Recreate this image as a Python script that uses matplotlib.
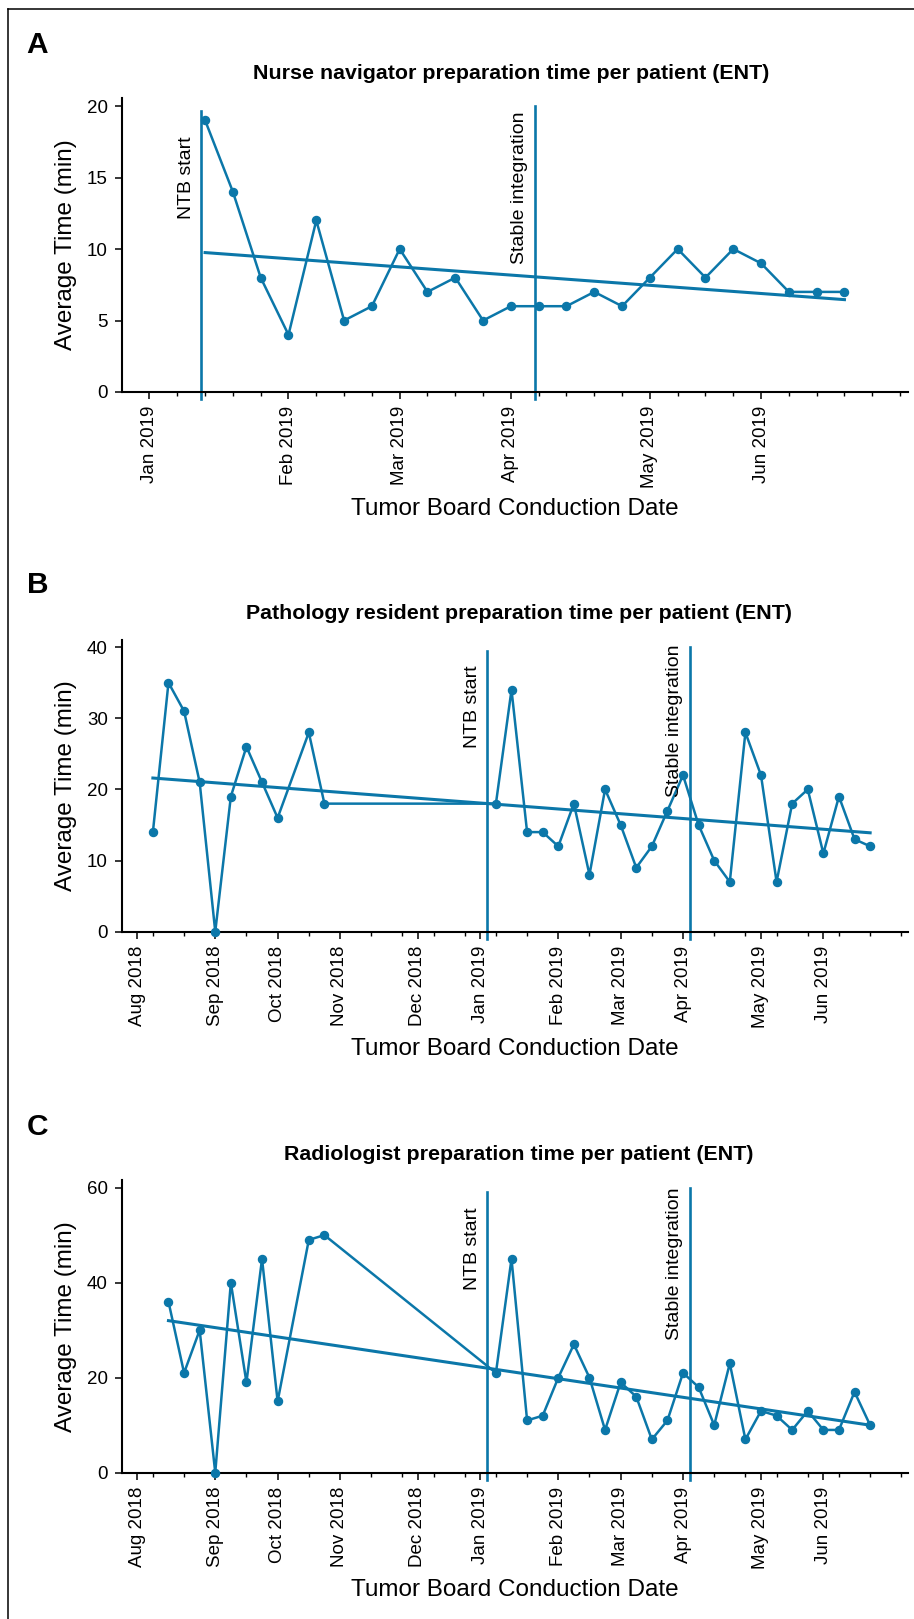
import matplotlib
matplotlib.use("Agg")
import numpy as np
import matplotlib.pyplot as plt
import matplotlib.dates as mdates
from matplotlib.lines import Line2D

plt.rcParams['font.family'] = ['Liberation Sans', 'DejaVu Sans']

COLOR = '#0b77a9'

# ---------------- Panel A data ----------------
a_title = "Nurse navigator preparation time per patient (ENT)"
a_dates = ['2019-01-15', '2019-01-22', '2019-01-29', '2019-02-05', '2019-02-12', '2019-02-19',
           '2019-02-26', '2019-03-05', '2019-03-12', '2019-03-19', '2019-03-26', '2019-04-02',
           '2019-04-09', '2019-04-16', '2019-04-23', '2019-04-30', '2019-05-07', '2019-05-14',
           '2019-05-21', '2019-05-28', '2019-06-04', '2019-06-11', '2019-06-18', '2019-06-25']
a_values = [19, 14, 8, 4, 12, 5, 6, 10, 7, 8, 5, 6, 6, 6, 7, 6, 8, 10, 8, 10, 9, 7, 7, 7]
a_trend_dates = ['2019-01-15', '2019-06-25']
a_trend_values = [9.75, 6.46]
a_events = ['2019-01-14', '2019-04-08']
a_tick_dates = ['2019-01-01', '2019-02-05', '2019-03-05', '2019-04-02', '2019-05-07', '2019-06-04']
a_tick_labels = ['Jan 2019', 'Feb 2019', 'Mar 2019', 'Apr 2019', 'May 2019', 'Jun 2019']
a_yticks = [0, 5, 10, 15, 20]

# ---------------- Panel B data ----------------
b_title = "Pathology resident preparation time per patient (ENT)"
b_dates = ['2018-08-07', '2018-08-14', '2018-08-21', '2018-08-28', '2018-09-04', '2018-09-11',
           '2018-09-18', '2018-09-25', '2018-10-02', '2018-10-16', '2018-10-23',
           '2019-01-08', '2019-01-15', '2019-01-22', '2019-01-29', '2019-02-05', '2019-02-12',
           '2019-02-19', '2019-02-26', '2019-03-05', '2019-03-12', '2019-03-19', '2019-03-26',
           '2019-04-02', '2019-04-09', '2019-04-16', '2019-04-23', '2019-04-30', '2019-05-07',
           '2019-05-14', '2019-05-21', '2019-05-28', '2019-06-04', '2019-06-11', '2019-06-18',
           '2019-06-25']
b_values = [14, 35, 31, 21, 0, 19, 26, 21, 16, 28, 18,
            18, 34, 14, 14, 12, 18, 8, 20, 15, 9, 12, 17, 22, 15, 10, 7, 28, 22, 7, 18, 20,
            11, 19, 13, 12]
b_trend_dates = ['2018-08-07', '2019-06-25']
b_trend_values = [21.6, 13.9]
b_events = ['2019-01-04', '2019-04-05']

# ---------------- Panel C data ----------------
c_title = "Radiologist preparation time per patient (ENT)"
c_dates = ['2018-08-14', '2018-08-21', '2018-08-28', '2018-09-04', '2018-09-11',
           '2018-09-18', '2018-09-25', '2018-10-02', '2018-10-16', '2018-10-23',
           '2019-01-08', '2019-01-15', '2019-01-22', '2019-01-29', '2019-02-05', '2019-02-12',
           '2019-02-19', '2019-02-26', '2019-03-05', '2019-03-12', '2019-03-19', '2019-03-26',
           '2019-04-02', '2019-04-09', '2019-04-16', '2019-04-23', '2019-04-30', '2019-05-07',
           '2019-05-14', '2019-05-21', '2019-05-28', '2019-06-04', '2019-06-11', '2019-06-18',
           '2019-06-25']
c_values = [36, 21, 30, 0, 40, 19, 45, 15, 49, 50,
            21, 45, 11, 12, 20, 27, 20, 9, 19, 16, 7, 11, 21, 18, 10, 23, 7, 13, 12, 9, 13,
            9, 9, 17, 10]
c_trend_dates = ['2018-08-14', '2019-06-25']
c_trend_values = [32.0, 10.0]
c_events = ['2019-01-04', '2019-04-05']

bc_tick_dates = ['2018-07-31', '2018-09-04', '2018-10-02', '2018-10-30', '2018-12-04',
                 '2019-01-01', '2019-02-05', '2019-03-05', '2019-04-02', '2019-05-07', '2019-06-04']
bc_tick_labels = ['Aug 2018', 'Sep 2018', 'Oct 2018', 'Nov 2018', 'Dec 2018',
                  'Jan 2019', 'Feb 2019', 'Mar 2019', 'Apr 2019', 'May 2019', 'Jun 2019']
b_yticks = [0, 10, 20, 30, 40]
c_yticks = [0, 20, 40, 60]

event_labels = ['NTB start', 'Stable integration']
x_label = 'Tumor Board Conduction Date'
y_label = 'Average Time (min)'


def d2n(lst):
    return mdates.date2num(np.array(lst, dtype='datetime64[D]'))


W, H = 914, 1619
fig = plt.figure(figsize=(W / 100, H / 100), dpi=100)

# figure frame (left and top)
fig.add_artist(Line2D([8 / W, 8 / W], [0, 1 - 9 / H], transform=fig.transFigure, color='black', lw=1.1))
fig.add_artist(Line2D([8 / W, 1], [1 - 9 / H, 1 - 9 / H], transform=fig.transFigure, color='black', lw=1.1))

panels = [
    dict(letter='A', title=a_title, dates=a_dates, values=a_values, td=a_trend_dates, tv=a_trend_values,
         events=a_events, ticks=a_tick_dates, labels=a_tick_labels, yticks=a_yticks,
         minor_start='2019-01-01', minor_step=7, minor_end='2019-07-09',
         xlim=('2018-12-25', '2019-07-11'), ytop=20.56,
         ev_top=[19.65, 20.0], tx_top=[17.85, 19.6], ev_bot=-0.5,
         box=(392, 98), title_y=79.3, title_x=511, letter_y=53.3),
    dict(letter='B', title=b_title, dates=b_dates, values=b_values, td=b_trend_dates, tv=b_trend_values,
         events=b_events, ticks=bc_tick_dates, labels=bc_tick_labels, yticks=b_yticks,
         minor_start='2018-08-07', minor_step=14, minor_end='2019-07-09',
         xlim=('2018-07-24', '2019-07-12'), ytop=41.0,
         ev_top=[39.4, 40.0], tx_top=[37.5, 40.3], ev_bot=-1.0,
         box=(931.7, 640), title_y=619.3, title_x=519, letter_y=593.3),
    dict(letter='C', title=c_title, dates=c_dates, values=c_values, td=c_trend_dates, tv=c_trend_values,
         events=c_events, ticks=bc_tick_dates, labels=bc_tick_labels, yticks=c_yticks,
         minor_start='2018-08-07', minor_step=14, minor_end='2019-07-09',
         xlim=('2018-07-24', '2019-07-12'), ytop=61.6,
         ev_top=[59.0, 60.0], tx_top=[55.9, 60.0], ev_bot=-1.5,
         box=(1472.7, 1180), title_y=1160, title_x=519, letter_y=1135),
]

left_px, right_px = 121.7, 908

for p in panels:
    bot_px, top_px = p['box']
    ax = fig.add_axes([left_px / W, 1 - bot_px / H, (right_px - left_px) / W, (bot_px - top_px) / H])
    x = d2n(p['dates'])
    ax.plot(x, p['values'], color=COLOR, lw=1.8, marker='o', ms=5.8, zorder=3, clip_on=False)
    ax.plot(d2n(p['td']), p['tv'], color=COLOR, lw=2.2, zorder=2)
    for ev, top, ttop, lab in zip(d2n(p['events']), p['ev_top'], p['tx_top'], event_labels):
        ax.plot([ev, ev], [p['ev_bot'], top], color=COLOR, lw=1.9, clip_on=False, zorder=2)
        ax.annotate(lab, xy=(ev, ttop), xytext=(-4.5, 0), textcoords='offset points',
                    rotation=90, ha='right', va='top', fontsize=14)
    ax.set_xlim(d2n(list(p['xlim'])))
    ax.set_ylim(0, p['ytop'])
    ax.set_yticks(p['yticks'])
    ax.set_xticks(d2n(p['ticks']))
    ax.set_xticklabels(p['labels'], rotation=90)
    minors = np.arange(np.datetime64(p['minor_start']), np.datetime64(p['minor_end']) + 1,
                       np.timedelta64(p['minor_step'], 'D'))
    ax.set_xticks(mdates.date2num(minors), minor=True)
    for s in ['top', 'right']:
        ax.spines[s].set_visible(False)
    for s in ['left', 'bottom']:
        ax.spines[s].set_linewidth(1.5)
    ax.tick_params(axis='both', which='major', length=5, width=1.1, labelsize=13.5, pad=5)
    ax.tick_params(axis='x', which='minor', length=2.6, width=1.0)
    ax.set_ylabel(y_label, fontsize=17.5, labelpad=7)
    ax.set_xlabel(x_label, fontsize=17.5, labelpad=7)
    fig.text(p['title_x'] / W, 1 - p['title_y'] / H, p['title'], ha='center', va='baseline',
             fontsize=15.4, fontweight='bold')
    fig.text(26.7 / W, 1 - p['letter_y'] / H, p['letter'], ha='left', va='baseline',
             fontsize=21.5, fontweight='bold')

fig.savefig('out.png', dpi=100)
